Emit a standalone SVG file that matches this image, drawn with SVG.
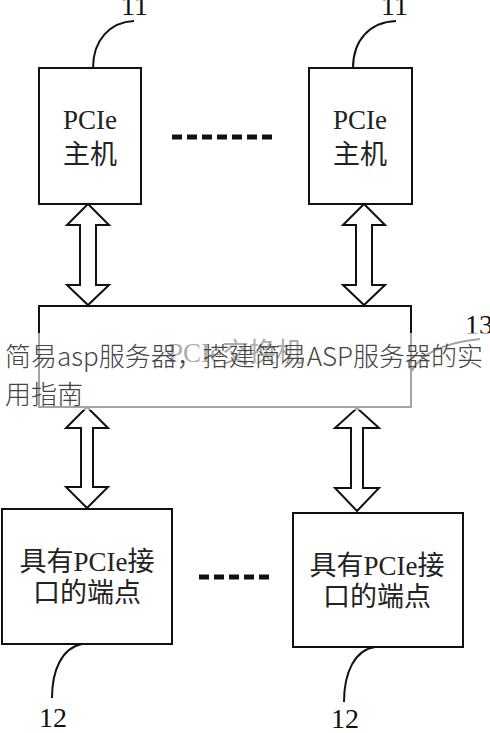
<svg xmlns="http://www.w3.org/2000/svg" width="490" height="733" viewBox="0 0 490 733">
<style>
.box{fill:#fff;stroke:#111;stroke-width:2}
.arr{fill:#fff;stroke:#111;stroke-width:2;stroke-linejoin:miter}
.lead{fill:none;stroke:#111;stroke-width:2}
.dots{stroke:#111;stroke-width:5;stroke-dasharray:10 5}
.t{font-family:"Liberation Serif","Noto Sans CJK SC",serif;font-size:27px;fill:#222;text-anchor:middle}
.num{font-family:"Liberation Serif",serif;font-size:28px;fill:#111}
.wm{font-family:"Noto Sans CJK SC","Noto Sans",sans-serif;font-size:26px;fill:#444;font-weight:300}
</style>
<rect width="490" height="733" fill="#fff"/>
<g id="host1">
<rect class="box" x="39" y="68" width="102" height="136"/>
<text class="t" x="90" y="129">PCIe</text>
<text class="t" x="90" y="164">主机</text>
</g>
<g id="host2">
<rect class="box" x="309" y="68" width="103" height="136"/>
<text class="t" x="360" y="129">PCIe</text>
<text class="t" x="360" y="164">主机</text>
</g>
<g id="switch">
<rect class="box" x="39" y="306" width="372" height="101"/>
<text class="t" x="168" y="362" style="text-anchor:start">PCIe交换机</text>
</g>
<g id="ep1">
<rect class="box" x="2" y="509" width="170" height="135"/>
<text class="t" x="87" y="571">具有PCIe接</text>
<text class="t" x="87" y="602">口的端点</text>
</g>
<g id="ep2">
<rect class="box" x="293" y="513" width="170" height="134"/>
<text class="t" x="377" y="575">具有PCIe接</text>
<text class="t" x="377" y="606">口的端点</text>
</g>
<g id="connectors">
<path class="arr" d="M88,204 L109,225 L96,225 L96,285 L109,285 L88,305 L67,285 L80,285 L80,225 L67,225 Z"/>
<path class="arr" d="M364,204 L385,225 L372,225 L372,285 L385,285 L364,305 L343,285 L356,285 L356,225 L343,225 Z"/>
<path class="arr" d="M87,407 L108,428 L93,428 L93,487 L108,487 L87,508 L66,487 L81,487 L81,428 L66,428 Z"/>
<path class="arr" d="M357,408 L379,428 L363,428 L363,488 L379,488 L357,511 L335,488 L351,488 L351,428 L335,428 Z"/>
<line class="dots" x1="172" y1="137" x2="277" y2="137"/>
<line class="dots" x1="199" y1="577" x2="272" y2="577"/>
<path class="lead" d="M93,68 C93,40 110,22 134,21"/>
<path class="lead" d="M353,68 C353,40 370,22 396,21"/>
<path class="lead" d="M411,372 C420,355 440,343 480,339"/>
<path class="lead" d="M82,644 C62,648 52,670 52,698"/>
<path class="lead" d="M375,647 C355,650 344,672 344,702"/>
<text class="num" x="121" y="15">11</text>
<text class="num" x="381" y="15">11</text>
<text class="num" x="465" y="334">13</text>
<text class="num" x="39" y="727">12</text>
<text class="num" x="331" y="728">12</text>
</g>
<rect x="0" y="333" width="490" height="77" fill="#fff" fill-opacity="0.62"/>
<text class="wm" x="5" y="366">简易asp服务器，搭建简易ASP服务器的实</text>
<text class="wm" x="5" y="404">用指南</text>
</svg>
